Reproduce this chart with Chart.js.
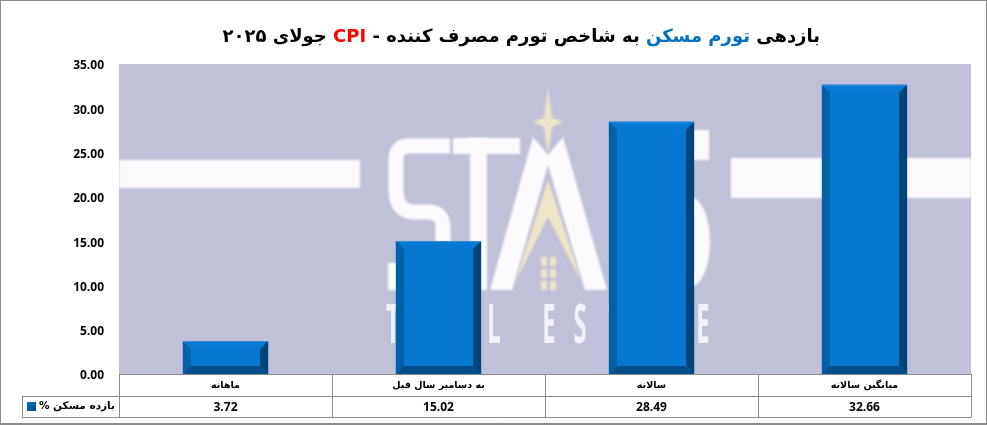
<!DOCTYPE html>
<html><head><meta charset="utf-8">
<script src="https://cdn.jsdelivr.net/npm/chart.js@4"></script>
<style>html,body{margin:0;padding:0;background:#fff}canvas{display:block}</style>
</head><body><canvas id="c" width="987" height="425"></canvas>
<script>
const categories = ["ماهانه", "به دسامبر سال قبل", "سالانه", "میانگین سالانه"];
const seriesName = "بازده مسکن %";
const housingReturn = [3.72, 15.02, 28.49, 32.66];
const titleParts = [["بازدهی ", "#000000"], ["تورم مسکن", "#0070c0"], [" به شاخص تورم مصرف کننده - ", "#000000"], ["CPI", "#ff0000"], [" جولای ۲۰۲۵", "#000000"]];

const GRAY = "#8c8c8c";
const numFont = "bold 12px 'Open Sans'";
const faFont = "bold 10.5px 'DejaVu Sans'";

function poly(ctx, pts, fill) {
  ctx.beginPath(); pts.forEach((p, i) => i ? ctx.lineTo(p[0], p[1]) : ctx.moveTo(p[0], p[1]));
  ctx.closePath(); ctx.fillStyle = fill; ctx.fill();
}
const frame = {
  id: "frame",
  beforeDraw(ch) {
    const c = ch.ctx, a = ch.chartArea;
    c.save();
    c.fillStyle = "#fff"; c.fillRect(0, 0, ch.width, ch.height);
    c.fillStyle = "#c0c1d8"; c.fillRect(a.left, a.top, a.right - a.left, a.bottom - a.top);
    // watermark
    c.save();
    c.beginPath(); c.rect(a.left, a.top, a.right - a.left, a.bottom - a.top); c.clip();
    c.filter = "blur(1px)";
    const W = "#fbfbfd";
    c.fillStyle = W; c.strokeStyle = W;
    c.fillRect(119, 160, 241, 28);
    c.fillRect(731, 158, 240, 40);
    c.lineWidth = 15; c.lineCap = "butt"; c.lineJoin = "round";
    // S
    c.beginPath(); c.moveTo(450, 146); c.lineTo(408, 146); c.quadraticCurveTo(396, 146, 396, 160);
    c.lineTo(396, 190); c.quadraticCurveTo(396, 212, 415, 212); c.lineTo(428, 212);
    c.quadraticCurveTo(443, 212, 443, 228); c.lineTo(443, 250); c.stroke();
    c.fillRect(388, 263, 30, 27);
    // T
    c.fillRect(453, 138, 67, 16); c.fillRect(470, 138, 17, 152);
    // A
    poly(c, [[533, 137], [490, 290], [512, 290], [548, 165], [585, 290], [607, 290], [563, 137], [548, 155]], W);
    // right-hand letter pieces
    c.fillStyle = W;
    c.fillRect(690, 130, 19, 30);
    c.beginPath(); c.ellipse(690, 242, 20, 45, 0, 0, Math.PI * 2); c.fill();
    // star, chevron, windows
    const gold = "#efe5c8";
    poly(c, [[548, 87], [552, 118], [563, 122], [552, 127], [548, 155], [544, 127], [533, 122], [544, 118]], gold);
    poly(c, [[548, 180], [582, 283], [548, 217], [515, 283]], gold);
    c.fillStyle = gold;
    [[541, 257], [550, 257], [541, 269], [550, 269], [541, 281], [550, 281]].forEach(p => c.fillRect(p[0], p[1], 6, 9));
    // REAL ESTATE
    c.filter = "blur(0.6px)";
    c.fillStyle = "#f1f1f6"; c.font = "bold 53px 'Open Sans'"; c.textBaseline = "alphabetic"; c.textAlign = "center";
    [["T", 393], ["L", 494], ["E", 549], ["S", 580], ["T", 615], ["E", 703]].forEach(p => {
      c.save(); c.translate(p[1], 343); c.scale(0.45, 1); c.fillText(p[0], 0, 0); c.restore();
    });
    c.restore();
    c.restore();
  },
  afterDraw(ch) {
    const c = ch.ctx, a = ch.chartArea, x = ch.scales.x;
    const rowA = a.bottom, rowB = 396, rowC = 417, tableL = 22;
    const step = (a.right - a.left) / categories.length;
    c.save();
    // table
    c.strokeStyle = GRAY; c.lineWidth = 1;
    c.beginPath();
    c.moveTo(a.left, rowA + .5); c.lineTo(a.right + .5, rowA + .5);
    c.moveTo(tableL, rowB + .5); c.lineTo(a.right + .5, rowB + .5);
    c.moveTo(tableL, rowC + .5); c.lineTo(a.right + .5, rowC + .5);
    c.moveTo(tableL + .5, rowB); c.lineTo(tableL + .5, rowC);
    for (let i = 0; i <= categories.length; i++) {
      const px = Math.round(a.left + i * step) + .5;
      c.moveTo(px, rowA); c.lineTo(px, rowC);
    }
    c.stroke();
    // values row
    c.fillStyle = "#000"; c.font = numFont; c.textAlign = "center"; c.textBaseline = "middle";
    housingReturn.forEach((v, i) => c.fillText(v.toFixed(2), x.getPixelForTick(i), 408));
    // legend row
    c.font = faFont; c.direction = "rtl"; c.textAlign = "right";
    c.fillText(seriesName, 115, 406);
    c.direction = "ltr";
    const g = c.createLinearGradient(27, 402, 36, 411);
    g.addColorStop(0, "#0678cf"); g.addColorStop(1, "#004478");
    c.fillStyle = g; c.fillRect(27, 402, 9, 9);
    // title
    c.font = "bold 18px 'DejaVu Sans'"; c.textBaseline = "middle"; c.direction = "rtl"; c.textAlign = "right";
    let rx = 820;
    titleParts.forEach(([t, col]) => { c.fillStyle = col; c.fillText(t, rx, 37); rx -= c.measureText(t).width; });
    c.direction = "ltr";
    // outer border
    c.strokeStyle = GRAY; c.lineWidth = 2; c.strokeRect(0, 0, 987, 424);
    c.restore();
  },
  afterDatasetsDraw(ch) {
    const c = ch.ctx, b = 8;
    ch.getDatasetMeta(0).data.forEach(el => {
      const l = el.x - el.width / 2, r = el.x + el.width / 2, t = el.y, u = el.base;
      const d = Math.min(b, (u - t) / 2);
      poly(c, [[l, t], [r, t], [r - b, t + d], [l + b, t + d]], "#0879d2");
      poly(c, [[l, t], [l + b, t + d], [l + b, u - d], [l, u]], "#0060a8");
      poly(c, [[r, t], [r - b, t + d], [r - b, u - d], [r, u]], "#004478");
      poly(c, [[l, u], [l + b, u - d], [r - b, u - d], [r, u]], "#004e8a");
      c.fillStyle = "#3f8fd0"; c.fillRect(l, t, r - l, 1);
    });
  }
};
new Chart(document.getElementById("c"), {
  type: "bar",
  data: { labels: categories, datasets: [{ label: seriesName, data: housingReturn, backgroundColor: "#0678cf", barPercentage: 1, categoryPercentage: 0.4 }] },
  plugins: [frame],
  options: {
    responsive: false, animation: false, devicePixelRatio: 1,
    layout: { padding: { top: 64, right: 16, left: 0, bottom: 0 } },
    plugins: { legend: { display: false }, title: { display: false }, tooltip: { enabled: false } },
    scales: {
      x: {
        afterFit(s) { s.height = 51; },
        grid: { display: false, drawTicks: false }, border: { display: false },
        ticks: { color: "#000", font: { family: "DejaVu Sans", size: 9.5, weight: "bold" }, padding: 6, maxRotation: 0, autoSkip: false }
      },
      y: {
        min: 0, max: 35,
        afterFit(s) { s.width = 119; },
        grid: { display: false }, border: { display: false },
        ticks: { stepSize: 5, color: "#000", font: { family: "Open Sans", size: 12, weight: "bold" }, padding: 7, labelOffset: 2, callback: v => v.toFixed(2) }
      }
    }
  }
});
</script></body></html>
